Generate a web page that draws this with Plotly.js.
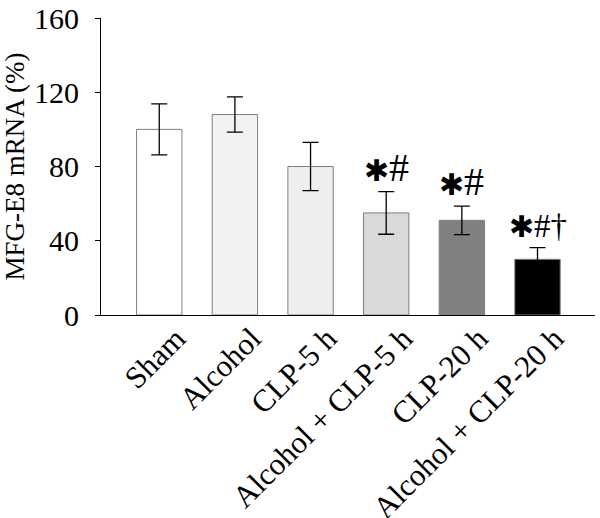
<!DOCTYPE html>
<html><head><meta charset="utf-8">
<script src="https://cdn.plot.ly/plotly-3.0.1.min.js"></script>
<style>body{margin:0;background:#fff}</style>
</head><body><div id="chart" style="width:600px;height:518px"></div>
<script>
const categories = ["Sham", "Alcohol", "CLP-5 h", "Alcohol + CLP-5 h", "CLP-20 h", "Alcohol + CLP-20 h"];
const values = [100, 108, 80, 55, 51, 30];
const errors = [13.7, 9.5, 13, 11.5, 7.7, 6.3];
const barColors = ["#ffffff", "#f2f2f2", "#eeeeee", "#d9d9d9", "#808080", "#000000"];
const marks = ["", "", "", "✱#", "✱#", "✱#†"];
const tickVals = [0, 40, 80, 120, 160];

const font = "Liberation Serif, Times New Roman, serif";
const trace = {
  type: "bar", x: categories, y: values, width: 0.6,
  marker: {color: barColors, line: {color: "#7f7f7f", width: 1}},
  error_y: {type: "data", array: errors, visible: true, color: "#000", thickness: 1.3, width: 8}
};
function fmt(m) {
  if (!m) return "";
  return "<span style='font-size:30px'>✱</span>" + m.slice(1);
}
const annotations = categories.map((c, i) => ({
  x: c, y: values[i] + errors[i], xref: "x", yref: "y", yanchor: "bottom", yshift: i === 5 ? 2 : 0,
  text: fmt(marks[i]), showarrow: false,
  font: {family: font, size: i === 5 ? 33 : 40, color: "#000"}
})).filter(a => a.text);

Plotly.newPlot("chart", [trace], {
  width: 600, height: 518,
  margin: {l: 101, r: 5, t: 18, b: 203},
  paper_bgcolor: "#fff", plot_bgcolor: "#fff",
  showlegend: false, bargap: 0.4,
  font: {family: font, color: "#000"},
  xaxis: {range: [-0.77, 5.76], showline: true, linecolor: "#000", linewidth: 1,
    ticks: "", tickangle: -45, tickfont: {family: font, size: 31}, showgrid: false, zeroline: false,
    ticklabelshift: 17, ticklabelstandoff: -8},
  yaxis: {range: [0, 160], tickvals: tickVals, showline: true, linecolor: "#000", linewidth: 1,
    ticks: "outside", ticklen: 5, tickcolor: "#000", tickfont: {family: font, size: 30},
    ticklabelstandoff: 10,
    showgrid: false, zeroline: false,
    title: {text: "MFG-E8 mRNA (%)", font: {family: font, size: 27}, standoff: 6}},
  annotations: annotations
}, {staticPlot: true});
</script></body></html>
